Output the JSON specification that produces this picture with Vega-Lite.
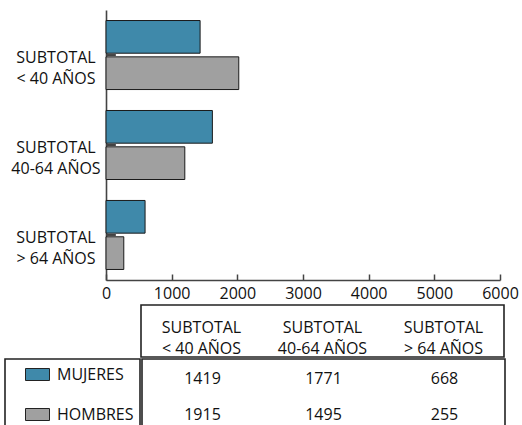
{
  "$schema": "https://vega.github.io/schema/vega-lite/v6.json",
  "padding": {"left": 4, "top": 10, "right": 2, "bottom": 0},
  "config": {
    "font": "Open Sans",
    "view": {"stroke": null},
    "axis": {"labelFont": "Open Sans", "labelFontSize": 16, "labelColor": "#111", "domainColor": "#444", "domainWidth": 1.6, "grid": false, "title": null},
    "text": {"font": "Open Sans", "fontSize": 16, "color": "#111"}
  },
  "datasets": {
    "tabla": [
      {"grupo": "SUBTOTAL\n< 40 AÑOS", "sexo": "MUJERES", "barra": 1433, "tabla": 1419},
      {"grupo": "SUBTOTAL\n< 40 AÑOS", "sexo": "HOMBRES", "barra": 2022, "tabla": 1915},
      {"grupo": "SUBTOTAL\n40-64 AÑOS", "sexo": "MUJERES", "barra": 1620, "tabla": 1771},
      {"grupo": "SUBTOTAL\n40-64 AÑOS", "sexo": "HOMBRES", "barra": 1200, "tabla": 1495},
      {"grupo": "SUBTOTAL\n> 64 AÑOS", "sexo": "MUJERES", "barra": 595, "tabla": 668},
      {"grupo": "SUBTOTAL\n> 64 AÑOS", "sexo": "HOMBRES", "barra": 271, "tabla": 255}
    ]
  },
  "spacing": 3,
  "resolve": {"scale": {"color": "independent"}, "legend": {"color": "independent"}},
  "vconcat": [
    {
      "spacing": 0,
      "resolve": {"scale": {"color": "independent"}, "legend": {"color": "independent"}},
      "hconcat": [
        {
          "width": 96,
          "height": 270,
          "data": {"name": "tabla"},
          "transform": [{"filter": "datum.sexo === 'MUJERES'"}],
          "mark": {"type": "text", "lineBreak": "\n", "lineHeight": 20.5, "dy": 3, "dx": 3},
          "encoding": {
            "y": {"field": "grupo", "type": "nominal", "sort": null, "axis": null, "scale": {"paddingInner": 0.233, "paddingOuter": 0.117}},
            "text": {"field": "grupo", "type": "nominal"}
          }
        },
        {
          "width": 394,
          "height": 270,
          "data": {"name": "tabla"},
          "encoding": {
            "y": {
              "field": "grupo", "type": "nominal", "sort": null,
              "scale": {"paddingInner": 0.233, "paddingOuter": 0.117},
              "axis": {"ticks": false, "tickSize": 0, "labels": false, "domain": true}
            }
          },
          "layer": [
            {
              "mark": {"type": "bar", "stroke": "#1a1a1a", "strokeWidth": 1},
              "encoding": {
                "yOffset": {"field": "sexo", "type": "nominal", "sort": ["MUJERES", "HOMBRES"], "scale": {"paddingInner": 0.1, "paddingOuter": 0}},
                "x": {
                  "field": "barra", "type": "quantitative",
                  "scale": {"domain": [0, 6000]},
                  "axis": {"values": [0, 1000, 2000, 3000, 4000, 5000, 6000], "format": "d", "tickSize": -6, "tickColor": "#444", "tickWidth": 1.5, "labelPadding": 11, "labelFlush": false, "labelOverlap": false}
                },
                "color": {"field": "sexo", "type": "nominal", "scale": {"domain": ["MUJERES", "HOMBRES"], "range": ["#3f89aa", "#a0a0a0"]}, "legend": null}
              }
            },
            {
              "transform": [{"filter": "datum.sexo === 'MUJERES'"}],
              "mark": {"type": "rule", "color": "#444", "strokeWidth": 2},
              "encoding": {"x": {"datum": 0}, "x2": {"datum": 150}}
            }
          ]
        }
      ]
    },
    {
      "spacing": 0,
      "resolve": {"scale": {"color": "independent"}, "legend": {"color": "independent"}},
      "vconcat": [
        {
          "spacing": 0,
          "hconcat": [
            {
              "width": 135, "height": 52,
              "data": {"values": [{"v": ""}]},
              "mark": {"type": "text"},
              "encoding": {"text": {"field": "v"}}
            },
            {
              "width": 363, "height": 52,
              "view": {"stroke": "#222", "strokeWidth": 1.6},
              "data": {"name": "tabla"},
              "transform": [{"filter": "datum.sexo === 'MUJERES'"}],
              "mark": {"type": "text", "lineBreak": "\n", "lineHeight": 21, "dy": -3},
              "encoding": {
                "x": {"field": "grupo", "type": "nominal", "sort": null, "axis": null, "scale": {"paddingInner": 0, "paddingOuter": 0}},
                "text": {"field": "grupo", "type": "nominal"}
              }
            }
          ]
        },
        {
          "spacing": 0,
          "resolve": {"scale": {"color": "independent"}, "legend": {"color": "independent"}},
          "hconcat": [
            {
              "width": 135, "height": 72,
              "view": {"stroke": "#222", "strokeWidth": 1.6},
              "data": {"values": [{"sexo": "MUJERES"}, {"sexo": "HOMBRES"}]},
              "mark": {"type": "square", "opacity": 0},
              "encoding": {
                "color": {
                  "field": "sexo", "type": "nominal",
                  "scale": {"domain": ["MUJERES", "HOMBRES"], "range": ["#3f89aa", "#a0a0a0"]},
                  "legend": {"orient": "none", "legendX": 20, "legendY": 3, "title": null, "padding": 0, "symbolType": "M-1,-0.5H1V0.5H-1Z", "symbolSize": 576, "symbolStrokeColor": "#222", "symbolStrokeWidth": 1, "symbolOpacity": 1, "labelFont": "Open Sans", "labelFontSize": 16, "labelColor": "#111", "labelOffset": 7, "rowPadding": 19}
                }
              }
            },
            {
              "width": 363, "height": 72,
              "view": {"stroke": "#222", "strokeWidth": 1.6},
              "data": {"name": "tabla"},
              "mark": {"type": "text", "dy": 1.5},
              "encoding": {
                "x": {"field": "grupo", "type": "nominal", "sort": null, "axis": null, "scale": {"paddingInner": 0, "paddingOuter": 0}},
                "y": {"field": "sexo", "type": "nominal", "sort": ["MUJERES", "HOMBRES"], "axis": null, "scale": {"paddingInner": 0, "paddingOuter": 0}},
                "text": {"field": "tabla", "type": "nominal"}
              }
            }
          ]
        }
      ]
    }
  ]
}
